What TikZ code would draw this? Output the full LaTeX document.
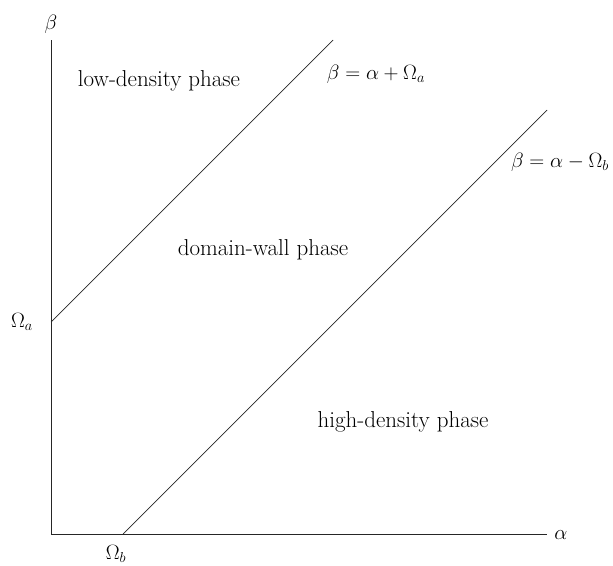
\documentclass[tikz,border=0pt]{standalone}
\begin{document}
\begin{tikzpicture}[x=1pt,y=-1pt,
  axisline/.style={line width=0.8pt,draw=black!85},
  phaseline/.style={line width=0.7pt,draw=black!85},
  lbl/.style={inner sep=0pt,font=\fontsize{20}{24}\selectfont},
  txt/.style={inner sep=0pt,font=\fontsize{23}{27}\selectfont}]
\useasboundingbox (0,0) rectangle (613,565);
\coordinate (O) at (51,534);
\coordinate (ytop) at (51,40);
\coordinate (xend) at (547,534);
\coordinate (A) at (51,322);
\coordinate (Aend) at (333,40);
\coordinate (B) at (123,534);
\coordinate (Bend) at (547,110);
\draw[axisline] (ytop) -- (O) -- (xend);
\draw[phaseline] (A) -- (Aend);
\draw[phaseline] (B) -- (Bend);
\node[lbl] (beta) at (51,24) {$\beta$};
\node[lbl] (alpha) at (561,535) {$\alpha$};
\node[lbl] (Oa) at (22,322) {$\Omega_a$};
\node[lbl] (Ob) at (116,554) {$\Omega_b$};
\node[lbl] (eqa) at (376,74) {$\beta=\alpha+\Omega_a$};
\node[lbl] (eqb) at (560,162) {$\beta=\alpha-\Omega_b$};
\node[txt] (ld) at (159,81) {low-density phase};
\node[txt] (dw) at (263,250) {domain-wall phase};
\node[txt] (hd) at (403,422) {high-density phase};
\end{tikzpicture}
\end{document}
